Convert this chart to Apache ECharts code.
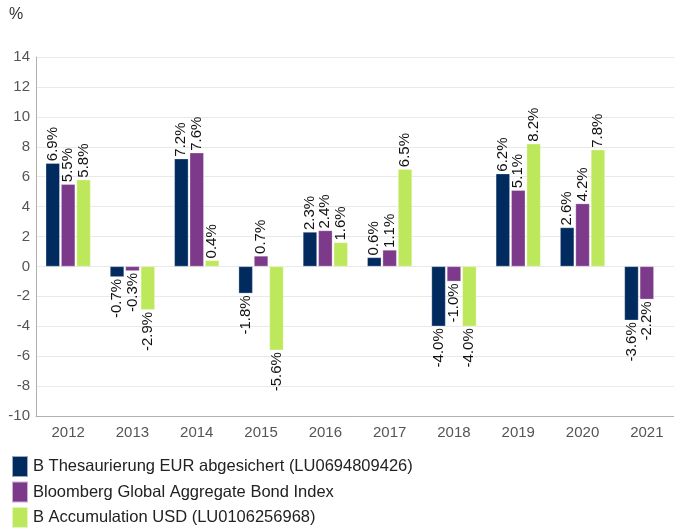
<!DOCTYPE html>
<html>
<head>
<meta charset="utf-8">
<script src="https://cdn.jsdelivr.net/npm/echarts@6/dist/echarts.min.js"></script>
<style>
html,body{margin:0;padding:0;background:#fff;overflow:hidden;}
#chart{width:680px;height:531px;}
</style>
</head>
<body>
<div id="chart"></div>
<script>
var categories = ['2012','2013','2014','2015','2016','2017','2018','2019','2020','2021'];
var seriesNames = [
  'B Thesaurierung EUR abgesichert (LU0694809426)',
  'Bloomberg Global Aggregate Bond Index',
  'B Accumulation USD (LU0106256968)'
];
var fundEUR = [6.9, -0.7, 7.2, -1.8, 2.3, 0.6, -4.0, 6.2, 2.6, -3.6];
var bondIndex = [5.5, -0.3, 7.6, 0.7, 2.4, 1.1, -1.0, 5.1, 4.2, -2.2];
var fundUSD = [5.8, -2.9, 0.4, -5.6, 1.6, 6.5, -4.0, 8.2, 7.8, null];
var yTicks = [-10, -8, -6, -4, -2, 0, 2, 4, 6, 8, 10, 12, 14];
var colors = ['#012a5e', '#7d3a8b', '#bee85b'];

var FONT = '"Liberation Sans", Arial, Helvetica, sans-serif';

function buildData(arr) {
  return arr.map(function (v) {
    if (v === null) return null;
    return {
      value: v,
      label: v >= 0
        ? { position: 'top', align: 'left', verticalAlign: 'middle' }
        : { position: 'bottom', align: 'right', verticalAlign: 'middle' }
    };
  });
}

function mkSeries(name, arr, color) {
  return {
    name: name,
    type: 'bar',
    barWidth: 14,
    barGap: '10%',
    data: buildData(arr),
    itemStyle: { color: color, borderColor: 'rgba(255,255,255,0.6)', borderWidth: 0.5 },
    label: {
      show: true,
      rotate: 90,
      distance: 2,
      fontSize: 15,
      fontFamily: FONT,
      color: '#111',
      formatter: function (p) { return p.value.toFixed(1) + '%'; }
    },
    emphasis: { disabled: true },
    animation: false
  };
}

function mkLegend(name, top) {
  return {
    orient: 'horizontal',
    left: 11,
    top: top,
    padding: 0,
    itemWidth: 16,
    itemHeight: 21,
    icon: 'rect',
    selectedMode: false,
    textStyle: { fontSize: 16.5, fontFamily: FONT, color: '#222' },
    data: [name]
  };
}

var chart = echarts.init(document.getElementById('chart'), null, { renderer: 'canvas' });
chart.setOption({
  backgroundColor: '#fff',
  animation: false,
  textStyle: { fontFamily: FONT },
  graphic: [{
    type: 'text', left: 9, top: 7,
    style: { text: '%', fontSize: 16, fontFamily: FONT, fill: '#333' }
  }],
  legend: [
    mkLegend(seriesNames[0], 455),
    mkLegend(seriesNames[1], 480.5),
    mkLegend(seriesNames[2], 506)
  ],
  grid: { left: 36, width: 643, top: 57, bottom: 115, containLabel: false },
  xAxis: {
    type: 'category',
    data: categories,
    axisLine: { show: true, onZero: false, lineStyle: { color: '#b0b0b0', width: 1 } },
    axisTick: { show: false },
    axisLabel: { fontSize: 15, fontFamily: FONT, color: '#555', margin: 9 }
  },
  yAxis: {
    type: 'value',
    min: yTicks[0],
    max: yTicks[yTicks.length - 1],
    interval: 2,
    axisLine: { show: true, lineStyle: { color: '#b0b0b0', width: 1 } },
    axisTick: { show: false },
    axisLabel: { fontSize: 15, fontFamily: FONT, color: '#555', margin: 6 },
    splitLine: { lineStyle: { color: '#e9e9e9', width: 1 } }
  },
  series: [
    mkSeries(seriesNames[0], fundEUR, colors[0]),
    mkSeries(seriesNames[1], bondIndex, colors[1]),
    mkSeries(seriesNames[2], fundUSD, colors[2])
  ]
});
</script>
</body>
</html>
